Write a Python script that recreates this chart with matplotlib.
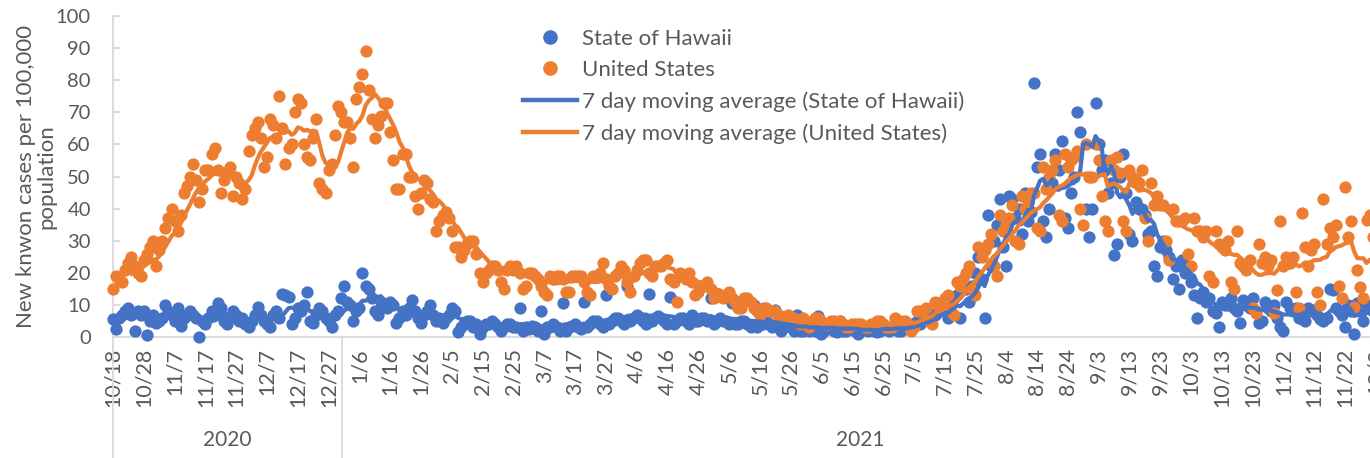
import numpy as np
import pandas as pd
import matplotlib
matplotlib.use("Agg")
import matplotlib.pyplot as plt
from matplotlib.lines import Line2D
from matplotlib.transforms import blended_transform_factory

# ---------------- data (daily new cases per 100,000, starting 2020-10-18) ----------------
start_date = "2020-10-18"

hawaii = [
    5.5, 2.5, 6, 7, 8, 9, 7, 2, 8, 7,
    8, 0.5, 5, 7, 4.5, 5, 6, 10, 8, 7,
    5, 9, 3.5, 6, 7, 8, 7, 6, 0, 5,
    4, 6, 8, 7, 10.5, 9, 5, 4, 6, 8,
    7, 5, 6, 4, 3, 5, 7, 9.5, 7, 5,
    4, 3, 7, 8, 6, 13.5, 13, 12.5, 4, 6,
    9, 8, 10, 14, 5, 4.5, 7, 9, 8, 6,
    5, 3, 7, 8, 12, 16, 11, 10, 5, 8,
    9, 20, 16, 15, 12, 8, 7, 11, 10, 9,
    11, 10, 4.5, 6, 8, 7, 9, 11.5, 8, 6,
    4.5, 7, 8, 10, 7, 5, 6, 4.5, 6, 7,
    9, 8, 1.5, 3, 4, 5, 5, 3, 4, 1,
    3, 4, 4, 5, 4, 3, 2, 3, 4, 4,
    3, 3, 9, 2, 3, 2.5, 3.5, 3, 2, 8,
    1, 3, 3, 4, 3, 2, 10.5, 2, 3, 3.5,
    4, 3, 2.5, 11, 3, 4, 5, 5, 4, 3,
    13, 4, 5, 6, 6, 5, 4, 16, 5, 6,
    7, 6, 5, 4, 13.5, 5, 6, 6.5, 6, 5,
    4, 12.5, 4, 5, 6, 6, 5, 4, 7, 5,
    5, 6, 6, 5, 12, 4, 5, 6, 5, 5,
    4, 10.5, 4, 4, 5, 5, 4, 3, 10, 3,
    4, 4, 5, 4, 3, 8.5, 3, 2, 3, 4,
    3, 2, 7, 2, 2, 3, 2, 3, 2, 6.5,
    1, 2, 3, 3, 2, 1.5, 5, 2, 2, 3,
    3, 2, 1, 2, 3, 2, 3, 2, 1.5, 2,
    4, 3, 2, 3, 3, 2, 2, 4, 3, 4,
    4, 5, 4, 5, 6, 5, 7, 7, 8, 10,
    9, 6, 11, 12, 13, 6, 16, 15, 11, 16,
    20, 25, 18, 6, 38, 22, 30, 35, 43, 28,
    22, 44, 43, 37, 40, 32, 45, 36, 39, 79,
    53, 57, 36, 31, 40, 48, 57, 52, 61, 37,
    34, 45, 50, 70, 64, 120, 40, 31, 40, 73,
    60, 52, 55, 45, 48, 25.5, 29, 50, 57, 45,
    32, 30, 42, 40, 40, 38, 32, 33, 22, 19,
    28, 30, 27, 25, 18, 22, 15, 24, 20, 22,
    17, 13, 6, 12, 14, 11, 12, 8, 7.5, 3,
    11, 10, 10, 12, 9, 8, 4.5, 11.5, 10, 9,
    12, 8, 4.5, 5, 11, 9, 8, 10, 6, 3,
    2, 11, 9, 8, 9, 6, 5.5, 5, 9, 8,
    8.5, 7, 5.5, 5, 6, 15, 14.5, 9, 8, 7,
    3, 10, 8, 1, 10.5, 9, 5, 9, 10, 8,
]

united_states = [
    15, 19, 18, 17, 21, 23, 25, 22, 20, 19,
    24, 26, 28, 30, 22, 27, 30, 34, 37, 40,
    36, 33, 38, 45, 47, 50, 54, 49, 42, 46,
    52, 52, 57, 59, 52, 45, 49, 51, 53, 44,
    50, 48, 43, 46, 58, 63, 65, 67, 62, 53,
    56, 68, 66, 62, 75, 65, 54, 59, 60, 70,
    74, 73, 60, 56, 55, 62, 68, 48, 46, 45,
    52, 54, 63, 72, 70, 67, 67, 62, 53, 74,
    78, 82, 89, 77, 68, 62, 66, 69, 73, 73,
    64, 55, 46, 46, 57, 57, 50, 50, 44, 40,
    45, 49, 48, 43, 42, 33, 36, 38, 39, 37,
    33, 28, 28, 25, 27, 29, 30, 30, 26, 20,
    17, 20, 21, 22, 22, 21, 17, 15, 21, 22,
    21, 22, 20, 15, 16, 20, 20, 19, 18, 16,
    14, 13, 19, 18, 19, 19, 18, 14, 14, 19,
    19, 19, 19, 17, 14, 13, 19, 19, 20, 23,
    18, 16, 15, 19, 20, 22, 21, 17, 14, 19,
    21, 23, 24, 24, 20, 19, 22, 22, 22, 23,
    24, 18, 17, 11, 20, 19, 18, 20, 17, 13,
    14, 16, 16, 17, 15, 12, 13, 13, 12, 13,
    14, 12, 11, 9, 9, 12, 12, 11, 9, 8,
    7, 9, 9, 8, 8, 8, 6, 6, 6, 7,
    6, 6, 5, 4, 6, 4, 3, 5, 6, 6,
    5, 4, 4, 5, 5, 4, 5, 4, 3, 3,
    4, 4, 4, 4, 3, 3, 4, 4, 5, 5,
    4, 3, 3, 3, 6, 5, 5, 5, 4, 2,
    3, 8, 8, 8, 9, 5, 4, 11, 10, 11,
    12, 13, 8, 7, 17, 16, 18, 20, 22, 15,
    13, 28, 25, 27, 29, 32, 22, 19, 38, 33,
    35, 37, 41, 30, 29, 44, 40, 42, 45, 45,
    34, 33, 53, 46, 50, 52, 55, 38, 36, 57,
    53, 55, 56, 58, 40, 35, 60, 50, 50, 60,
    55, 44, 36, 33, 55, 52, 56, 51, 36, 33,
    52, 50, 49, 48, 52, 37, 30, 48, 41, 44,
    41, 41, 30, 24, 40, 36, 36, 36, 37, 26,
    22, 37, 33, 33, 31, 33, 19, 17, 33, 29,
    28, 27, 30, 17, 15, 33, 23, 22, 21, 24,
    9, 7.5, 29, 23, 25, 22, 24, 7.5, 14.6, 36,
    22, 25, 23, 25, 14, 9, 38.6, 28, 22, 27,
    29, 14, 10, 43, 29, 34, 31, 35, 16, 12,
    46.7, 31, 36, 9.3, 21, 15.6, 12, 36.4, 38, 31,
]

series_labels = ["State of Hawaii", "United States"]
ma_labels = ["7 day moving average (State of Hawaii)",
             "7 day moving average (United States)"]
year_labels = ["2020", "2021"]
y_label = "New knwon cases per 100,000\npopulation"

# ---------------- styling ----------------
BLUE = "#4472C4"
ORANGE = "#ED7D31"
TXT = "#595959"
AX = "#D9D9D9"
plt.rcParams["font.family"] = ["Lato", "DejaVu Sans"]

n = len(united_states)
days = np.arange(n)
dates = pd.date_range(start_date, periods=n + 2)
hi = pd.Series(hawaii, dtype=float)
us = pd.Series(united_states, dtype=float)
hi_ma = hi.rolling(7).mean()
us_ma = us.rolling(7).mean()

YMAX = 100
XMAX = n + 1.0

fig = plt.figure(figsize=(13.7, 4.58), dpi=100)
ax = fig.add_axes([113 / 1370, 1 - 337 / 458, (XMAX * 3.08) / 1370, 321 / 458])

vh = (hi <= YMAX).values
vu = (us <= YMAX).values
ax.scatter(days[vh], hi[vh], s=78, color=BLUE, linewidths=0, clip_on=False, zorder=3)
ax.scatter(days[vu], us[vu], s=78, color=ORANGE, linewidths=0, clip_on=False, zorder=4)
ax.plot(days, hi_ma, color=BLUE, lw=3.0, zorder=5, solid_joinstyle="round")
ax.plot(days, us_ma, color=ORANGE, lw=3.0, zorder=6, solid_joinstyle="round")

ax.set_xlim(0, XMAX)
ax.set_ylim(0, YMAX)
ax.set_yticks(np.arange(0, 101, 10))
xt = np.arange(0, n + 1, 10)
ax.set_xticks(xt)
ax.set_xticklabels([f"{d.month}/{d.day}" for d in dates[xt]], rotation=90)

for s in ["top", "right"]:
    ax.spines[s].set_visible(False)
for s in ["left", "bottom"]:
    ax.spines[s].set_color(AX)
    ax.spines[s].set_linewidth(1.3)

ax.tick_params(axis="y", direction="in", length=5, width=1.3, color=AX,
               labelsize=14.5, labelcolor=TXT, pad=16)
ax.tick_params(axis="x", length=0, labelsize=15.5, labelcolor=TXT, pad=8)

ax.set_ylabel(y_label, fontsize=16, color=TXT, linespacing=1.0)
ax.yaxis.set_label_coords(-0.045, 0.5)

# multi-level category separators and year labels
trans = blended_transform_factory(ax.transData, ax.transAxes)
year_split = float(np.where(dates[:n].year == 2021)[0][0]) - 0.5
for xv in [0, year_split]:
    ax.plot([xv, xv], [0, -0.38], transform=trans, color=AX, lw=1.3, clip_on=False)
ax.text(year_split / 2, -0.322, year_labels[0], transform=trans, ha="center", va="center",
        fontsize=15, color=TXT)
ax.text((year_split + XMAX) / 2, -0.322, year_labels[1], transform=trans, ha="center",
        va="center", fontsize=15, color=TXT)

handles = [
    Line2D([], [], ls="none", marker="o", markersize=9.5, color=BLUE),
    Line2D([], [], ls="none", marker="o", markersize=9.5, color=ORANGE),
    Line2D([], [], color=BLUE, lw=3.2),
    Line2D([], [], color=ORANGE, lw=3.2),
]
leg = fig.legend(handles, series_labels + ma_labels, loc="upper left",
                 bbox_to_anchor=(523 / 1370, 1 - 29 / 458), frameon=False,
                 fontsize=16, handlelength=2.45, handletextpad=0.22,
                 labelspacing=0.5, borderpad=0, borderaxespad=0)
for t in leg.get_texts():
    t.set_color(TXT)

fig.savefig("out.png", dpi=100)
